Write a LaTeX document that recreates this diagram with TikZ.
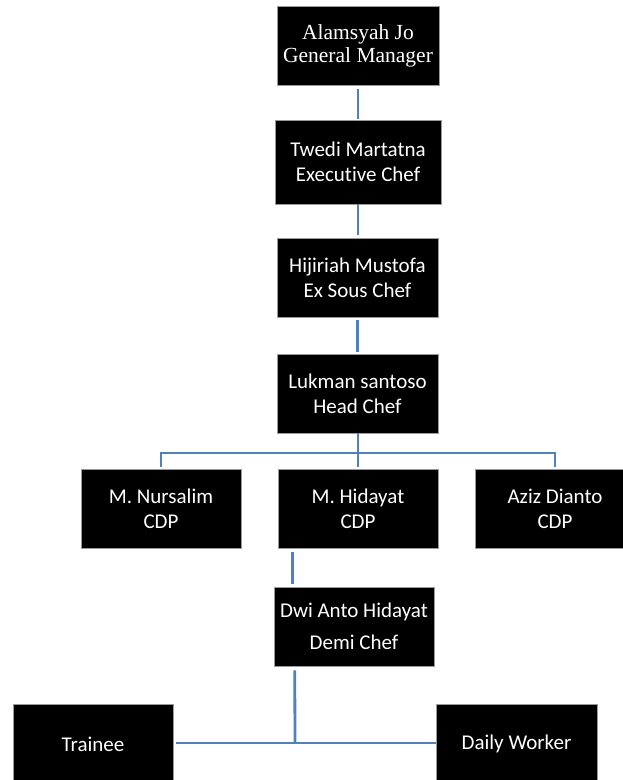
\documentclass[tikz,border=0pt]{standalone}
\usepackage{fontspec}
\setmainfont{Carlito}[Ligatures=NoCommon]
\newfontfamily\tnr{Liberation Serif}
\definecolor{linkblue}{HTML}{4F81BD}
\definecolor{edgegray}{HTML}{9A9A9A}
\begin{document}
\begin{tikzpicture}[x=1pt,y=1pt,
  box/.style={fill=black, draw=edgegray, line width=0.5pt, text=white,
    inner sep=0pt, align=center, font=\fontsize{21}{25}\selectfont},
  conn/.style={draw=linkblue, line width=2.8pt}]
\useasboundingbox (0,0) rectangle (623,-780);
\clip (0,0) rectangle (623,-780);
% nodes
\node[box, minimum width=162pt, minimum height=79pt, font=\tnr\fontsize{21.5}{23}\selectfont] (gm) at (358,-45.5) {Alamsyah Jo\\General Manager};
\node[box, minimum width=166pt, minimum height=84pt] (ex) at (358,-162) {Twedi Martatna\\Executive Chef};
\node[box, minimum width=161pt, minimum height=79pt] (sous) at (357.5,-277.5) {Hijiriah Mustofa\\Ex Sous Chef};
\node[box, minimum width=161pt, minimum height=79pt] (head) at (357.5,-393.5) {Lukman santoso\\Head Chef};
\node[box, minimum width=160pt, minimum height=79pt] (nurs) at (161,-508.5) {M. Nursalim\\CDP};
\node[box, minimum width=160pt, minimum height=79pt] (hid) at (358,-508.5) {M. Hidayat\\CDP};
\node[box, minimum width=160pt, minimum height=79pt] (aziz) at (555,-508.5) {Aziz Dianto\\CDP};
\node[box, minimum width=160pt, minimum height=79pt, font=\fontsize{21}{32}\selectfont] (dwi) at (354,-626.5) {Dwi Anto Hidayat\\Demi Chef};
\node[box, minimum width=160pt, minimum height=80pt] (trainee) at (93,-744) {Trainee};
\node[box, minimum width=161pt, minimum height=80pt] (daily) at (516.5,-744) {Daily Worker};
% connectors
\draw[conn, shorten <=4pt, shorten >=1pt] (gm.south) -- (ex.north);
\draw[conn, shorten >=3pt] (ex.south) -- ([xshift=0.5pt]sous.north);
\draw[conn, shorten <=3pt, shorten >=2pt] (sous.south) -- (head.north);
\coordinate (bus) at (358,-453);
\draw[conn] ([xshift=0.5pt]head.south) -- (bus);
\draw[conn] ([yshift=2pt]nurs.north) |- (bus) -| ([yshift=2pt]aziz.north);
\draw[conn] (bus) -- ([yshift=2pt]hid.north);
\draw[conn] ([xshift=15pt,yshift=-4pt]hid.south west) -- ([xshift=19pt,yshift=3pt]dwi.north west);
\coordinate (bus2) at (295,-743);
\draw[conn] ([xshift=21pt,yshift=-4pt]dwi.south west) -- (bus2);
\draw[conn] ([xshift=3pt,yshift=1pt]trainee.east) -- (bus2) -- ([yshift=1pt]daily.west);
\end{tikzpicture}
\end{document}
